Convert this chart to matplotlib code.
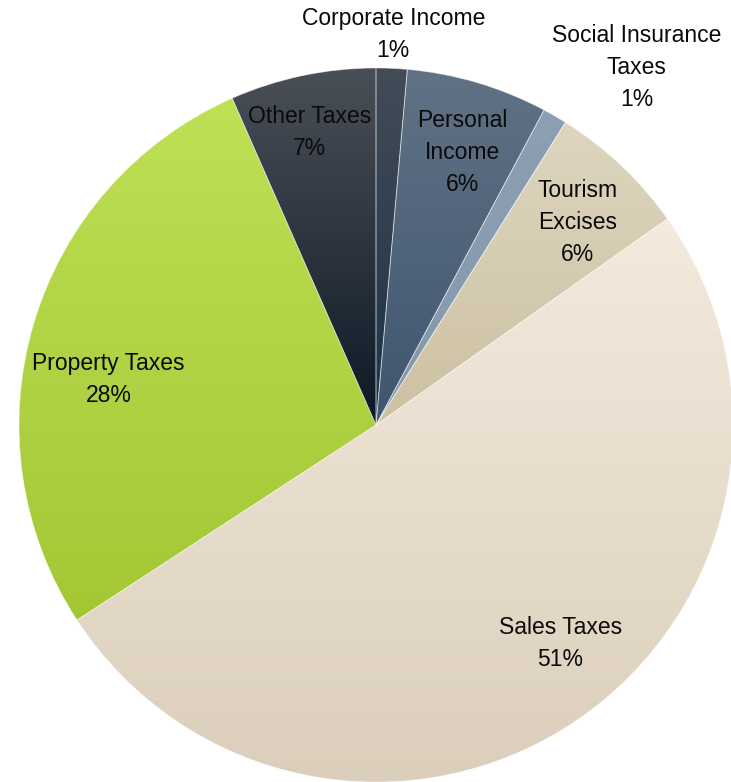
import numpy as np
import matplotlib
matplotlib.use("Agg")
import matplotlib.pyplot as plt
from matplotlib.colors import LinearSegmentedColormap

# slices, clockwise from 12 o'clock
categories = ["Corporate Income", "Personal\nIncome", "Social Insurance\nTaxes",
              "Tourism\nExcises", "Sales Taxes", "Property Taxes", "Other Taxes"]
shares = [1.4, 6.4, 1.1, 6.3, 50.6, 27.6, 6.6]
pct_labels = ["1%", "6%", "1%", "6%", "51%", "28%", "7%"]

# top / bottom colours of each slice gradient
top_colors = ["#434c57", "#617285", "#8d9fb2", "#ddd5be", "#f4eadd", "#bde055", "#4a4f57"]
bot_colors = ["#1d3148", "#3f566f", "#8498ad", "#cdc1a3", "#dbcebb", "#a4c735", "#0d1926"]

# label placement: radius factor and angle nudge (deg)
label_dist = [1.095, 0.80, 1.24, 0.80, 0.80, 0.76, 0.84]
label_nudge = [0, -1, -6, -1.4, 6, 7, 1]

plt.rcParams['font.family'] = ['Liberation Sans', 'DejaVu Sans']

W, H = 731, 782
fig = plt.figure(figsize=(W / 100, H / 100), dpi=100)
ax = fig.add_axes([0, 0, 1, 1])

cx, cy, r = 376, H - 425, 357

wedges, _ = ax.pie(shares, startangle=90, counterclock=False, center=(cx, cy),
                   radius=r, frame=True,
                   wedgeprops=dict(edgecolor=(1, 1, 1, 0.45), linewidth=0.6))

grad = np.linspace(0, 1, 256).reshape(-1, 1)
for w, c1, c2 in zip(wedges, top_colors, bot_colors):
    w.set_facecolor("none")
    w.set_zorder(3)
    cmap = LinearSegmentedColormap.from_list("g", [c1, c2])
    verts = w.get_path().vertices
    ymin, ymax = verts[:, 1].min(), verts[:, 1].max()
    im = ax.imshow(grad, cmap=cmap, aspect="auto", extent=[cx - r, cx + r, ymin, ymax],
                   origin="upper", zorder=2, interpolation="bilinear")
    im.set_clip_path(w)

for w, name, pct, d, nud in zip(wedges, categories, pct_labels, label_dist, label_nudge):
    ang = np.deg2rad((w.theta1 + w.theta2) / 2 + nud)
    x = cx + d * r * np.cos(ang)
    y = cy + d * r * np.sin(ang)
    ax.text(x, y, name + "\n" + pct, ha="center", va="center", fontsize=16.5,
            linespacing=1.5, color="#0a0a0a", zorder=5)

ax.set_xlim(0, W)
ax.set_ylim(0, H)
ax.set_aspect("auto")
ax.axis("off")

fig.savefig("out.png", dpi=100)
